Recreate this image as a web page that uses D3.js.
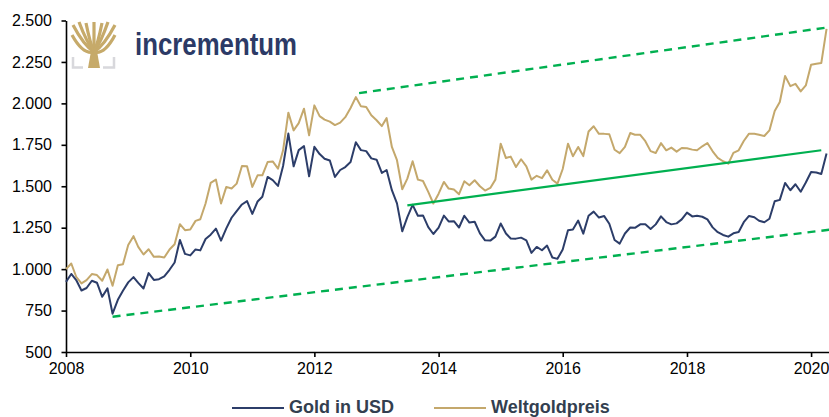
<!DOCTYPE html>
<html>
<head>
<meta charset="utf-8">
<script src="https://cdn.jsdelivr.net/npm/d3@7"></script>
<style>
    body { margin: 0; background: #fff; }
    svg { display: block; font-family: "Liberation Sans", Arial, sans-serif; }
</style>
</head>
<body>
<div id="container"></div>
<script>
// monthly values, Jan 2008 .. Apr 2020
const startYear = 2008;
const goldUsd = [
    923, 971, 934, 871, 886, 930, 918, 833, 884, 731, 815, 870,
    920, 952, 917, 883, 976, 935, 939, 956, 996, 1040, 1176, 1092,
    1083, 1119, 1113, 1182, 1208, 1244, 1172, 1246, 1310, 1350, 1390, 1410,
    1333, 1408, 1437, 1556, 1537, 1502, 1622, 1818, 1620, 1718, 1742, 1560,
    1738, 1694, 1666, 1655, 1556, 1598, 1616, 1646, 1765, 1718, 1712, 1668,
    1660, 1580, 1598, 1476, 1397, 1228, 1314, 1388, 1322, 1324, 1253, 1212,
    1250, 1323, 1288, 1289, 1251, 1322, 1281, 1286, 1216, 1174, 1172, 1196,
    1275, 1215, 1185, 1184, 1190, 1174, 1098, 1134, 1114, 1142, 1070, 1062,
    1118, 1235, 1239, 1293, 1214, 1322, 1347, 1311, 1320, 1274, 1176, 1154,
    1215, 1251, 1249, 1270, 1270, 1242, 1270, 1318, 1284, 1270, 1276, 1300,
    1341, 1318, 1322, 1316, 1300, 1252, 1223, 1206, 1196, 1216, 1224, 1283,
    1321, 1313, 1292, 1283, 1304, 1409, 1418, 1520, 1476, 1512, 1467, 1523,
    1586, 1583, 1574, 1697
];
const weltgold = [
    1000, 1034, 954, 914, 934, 970, 964, 930, 998, 900, 1024, 1030,
    1145, 1199, 1134, 1088, 1120, 1074, 1076, 1070, 1118, 1150, 1271, 1235,
    1239, 1291, 1301, 1396, 1520, 1540, 1396, 1496, 1486, 1516, 1622, 1620,
    1496, 1566, 1566, 1646, 1650, 1606, 1717, 1944, 1837, 1881, 1968, 1807,
    1988, 1923, 1902, 1890, 1869, 1884, 1917, 1972, 2038, 1982, 1978, 1928,
    1898, 1863, 1911, 1737, 1657, 1482, 1546, 1651, 1540, 1532, 1466, 1396,
    1455, 1526, 1486, 1480, 1452, 1530, 1506, 1536, 1500, 1474, 1490, 1540,
    1757, 1670, 1679, 1616, 1663, 1620, 1540, 1563, 1549, 1596, 1539, 1516,
    1604, 1757, 1681, 1737, 1682, 1830, 1862, 1816, 1816, 1814, 1720, 1700,
    1737, 1821, 1811, 1810, 1772, 1712, 1701, 1760, 1717, 1733, 1709, 1731,
    1729, 1721, 1717, 1741, 1761, 1711, 1671, 1651, 1636, 1701, 1717, 1773,
    1817, 1817, 1811, 1803, 1837, 1954, 2008, 2165, 2104, 2118, 2072, 2108,
    2233, 2239, 2243, 2450
];

// trend channel: [date, value] end points
const lowerTrend = [["2008-10-01", 713], ["2020-04-20", 1238]];
const upperTrend = [["2012-09-20", 2062], ["2020-04-20", 2460]];
const midTrend = [["2013-07-01", 1385], ["2020-03-01", 1717]];

const yTicks = [500, 750, 1000, 1250, 1500, 1750, 2000, 2250, 2500];
const seriesNames = ["Gold in USD", "Weltgoldpreis"];
const seriesColors = ["#2c3d69", "#c4a86c"];
const trendColor = "#00b050";

document.addEventListener("DOMContentLoaded", () => {

    const w = 829;
    const h = 417;

    const svg = d3
        .select("#container")
        .append("svg")
        .attr("width", w)
        .attr("height", h)

    const de = d3.formatLocale({ decimal: ",", thousands: ".", grouping: [3], currency: ["", "€"] });

    const x = d3.scaleTime()
        .domain([new Date(2008, 0, 1), new Date(2020, 4, 1)])
        .range([66, 66 + 62.08 * (12 + 4 / 12)])

    const y = d3.scaleLinear()
        .domain([500, 2500])
        .range([352, 20.5])

    const monthDate = (i) => new Date(startYear, i, 1);
    const parse = d3.timeParse("%Y-%m-%d");

    const line = d3.line()
        .x((d, i) => x(monthDate(i)))
        .y((d) => y(d))

    // axes
    svg.append("g")
        .attr("transform", "translate(0, 352)")
        .call(d3.axisBottom(x)
            .ticks(d3.timeYear.every(2))
            .tickFormat(d3.timeFormat("%Y"))
            .tickSize(5)
            .tickSizeOuter(0)
            .tickPadding(6))
        .call((g) => g.selectAll("text").attr("font-size", 16).attr("font-family", "Liberation Sans, Arial").attr("fill", "#000"))
        .call((g) => g.selectAll("line, path").attr("stroke", "#000").attr("stroke-width", 1.6))

    svg.append("g")
        .attr("transform", "translate(66, 0)")
        .call(d3.axisLeft(y)
            .tickValues(yTicks)
            .tickFormat(de.format(","))
            .tickSize(4.5)
            .tickSizeOuter(0)
            .tickPadding(9.5))
        .call((g) => g.selectAll("text").attr("font-size", 16).attr("font-family", "Liberation Sans, Arial").attr("fill", "#000"))
        .call((g) => g.selectAll("line, path").attr("stroke", "#000").attr("stroke-width", 1.6))

    // series
    svg.append("path")
        .datum(weltgold)
        .attr("d", line)
        .attr("fill", "none")
        .attr("stroke", seriesColors[1])
        .attr("stroke-width", 2)
        .attr("stroke-linejoin", "round")

    svg.append("path")
        .datum(goldUsd)
        .attr("d", line)
        .attr("fill", "none")
        .attr("stroke", seriesColors[0])
        .attr("stroke-width", 2)
        .attr("stroke-linejoin", "round")

    // trend lines
    const trendLine = d3.line()
        .x((d) => x(parse(d[0])))
        .y((d) => y(d[1]))

    ;[lowerTrend, upperTrend].forEach((t) => {
        svg.append("path")
            .attr("d", trendLine(t))
            .attr("fill", "none")
            .attr("stroke", trendColor)
            .attr("stroke-width", 2.4)
            .attr("stroke-dasharray", "8,6")
    })

    svg.append("path")
        .attr("d", trendLine(midTrend))
        .attr("fill", "none")
        .attr("stroke", trendColor)
        .attr("stroke-width", 2.2)

    // legend
    const legendX = [232, 434];
    const legend = svg.append("g")
    seriesNames.forEach((name, i) => {
        legend.append("line")
            .attr("x1", legendX[i]).attr("x2", legendX[i] + 52)
            .attr("y1", 408).attr("y2", 408)
            .attr("stroke", seriesColors[i])
            .attr("stroke-width", 2.2)
        legend.append("text")
            .attr("x", legendX[i] + 57)
            .attr("y", 413)
            .attr("font-size", 18)
            .attr("font-weight", "bold")
            .attr("fill", "#333f50")
            .text(name)
    })

    // logo
    const logo = svg.append("g").attr("transform", "translate(72, 22)")
    const gold = "#c6aa6a";
    logo.append("path")
        .attr("d", "M16,46 L28,46 L25.5,32 L24,24 L20,24 L18.5,32 Z")
        .attr("fill", gold)
    const tips = [[1, 3], [0, 13], [7, 0], [14, 1], [22, 0], [30, 1], [36, 0], [43, 3], [43, 13]];
    tips.forEach((t) => {
        const cx = (22 + t[0]) / 2;
        logo.append("path")
            .attr("d", `M22,30 Q${cx},${t[1] + 20} ${t[0]},${t[1]}`)
            .attr("fill", "none")
            .attr("stroke", gold)
            .attr("stroke-width", 3.2)
    })
    logo.append("path")
        .attr("d", "M1,35 V45.5 H11 M42,35 V45.5 H31")
        .attr("fill", "none")
        .attr("stroke", "#d8d8dc")
        .attr("stroke-width", 2.5)

    svg.append("text")
        .attr("x", 135)
        .attr("y", 55)
        .attr("font-size", 31)
        .attr("font-weight", "bold")
        .attr("fill", "#2c3a66")
        .attr("textLength", 162)
        .attr("lengthAdjust", "spacingAndGlyphs")
        .text("incrementum")
})
</script>
</body>
</html>
